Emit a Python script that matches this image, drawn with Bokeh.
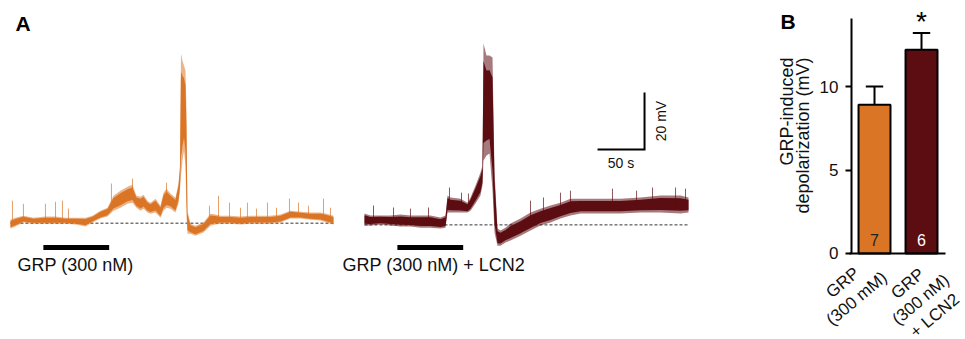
import numpy as np
from bokeh.plotting import figure
from bokeh.layouts import row
from bokeh.models import Range1d, FixedTicker
from bokeh.core.properties import value
from bokeh.embed import file_html
from bokeh.resources import INLINE

try:
    from bokeh.models import HTMLLabel as RotLabel
except ImportError:
    RotLabel = None

FONT = "Liberation Sans"
ORANGE = "#DB7526"
DARK = "#5C0D12"

# ---------------- Panel A data (time s from trace start, membrane potential mV vs baseline)
t1 = [0, 5.3, 13.8, 24.5, 37.2, 47.9, 58.5, 69.1, 79.8, 87.2, 95.7, 103.2, 109.6, 117.0,
      124.5, 129.8, 134.0, 138.3, 141.5, 145.7, 148.9, 154.3, 159.6, 162.8, 166.0, 170.2,
      175.5, 178.7, 180.3, 181.4, 183.0, 184.6, 186.2, 187.2, 188.3, 191.5, 196.8, 205.3,
      212.8, 218.1, 223.4, 234.0, 244.7, 255.3, 266.0, 276.6, 287.2, 297.9, 308.5, 319.1,
      329.8, 336.2, 343.6]
lo1 = [-1.9, -1.2, 0.2, -0.2, -0.2, -0.2, -0.2, -0.5, -1.2, 0.2, 1.6, 2.3, 4.4, 5.4,
       6.8, 7.2, 5.4, 4.4, 5.1, 3.7, 3.3, 3.7, 1.9, 4.4, 5.4, 5.1,
       3.7, 6.8, 11.4, 16.7, 21.9, 25.4, 20.2, 2.6, -3.7, -3.7, -4.4, -3.3,
       -0.9, -0.5, -0.2, -0.2, -0.5, -0.2, -0.2, -0.2, 0.2, 1.6, 1.6, 1.2,
       0.9, 0.2, -0.5]
hi1 = [1.2, 1.9, 2.6, 1.9, 2.3, 2.3, 1.9, 1.9, 1.9, 2.6, 4.4, 5.4, 9.6, 11.4,
       12.8, 13.5, 9.6, 9.3, 10.0, 7.9, 7.2, 8.6, 6.1, 10.7, 12.1, 10.4,
       8.9, 13.9, 20.2, 59.5, 57.0, 55.3, 53.5, 39.5, 4.4, -0.2, -0.9, 0.2,
       3.3, 3.0, 2.6, 2.6, 2.3, 2.6, 2.6, 2.6, 3.0, 4.4, 4.0, 3.7,
       3.7, 3.3, 2.6]
spk1_t = [2.1, 13.8, 37.2, 47.9, 55.3, 61.7, 107.4, 129.8, 166.0, 211.7, 221.3, 233.0,
          244.7, 252.1, 261.7, 273.4, 283.0, 296.8, 306.4, 317.0, 333.0, 340.4]
spk1_v = [7.9, 6.8, 6.8, 7.5, 7.9, 5.1, 13.9, 15.6, 14.2, 6.1, 9.6, 7.2,
          5.4, 7.2, 5.1, 7.2, 5.4, 8.6, 7.2, 6.1, 8.6, 5.4]

t2 = [0, 6.4, 17.0, 27.7, 38.3, 48.9, 59.6, 70.2, 80.9, 86.2, 88.3, 91.5, 102.1, 109.6,
      112.8, 118.1, 123.4, 125.5, 126.6, 129.8, 133.0, 136.2, 138.3, 141.5, 144.7, 150.0,
      155.3, 166.0, 176.6, 187.2, 197.9, 208.5, 219.1, 229.8, 251.1, 272.3, 293.6, 314.9,
      336.2, 344.7]
lo2 = [-0.2, -0.2, 0.1, -0.2, -0.6, -0.6, -1.0, -1.0, -1.3, -1.0, 4.3, 4.3, 4.3, 4.3,
       5.0, 7.5, 10.3, 13.8, 22.6, 24.3, 25.0, 12.0, -2.7, -7.3, -7.3, -6.2,
       -5.5, -3.8, -2.0, -0.2, 0.8, 2.2, 3.3, 4.0, 4.0, 4.0, 4.3, 4.3,
       4.0, 4.3]
hi2 = [4.0, 3.3, 3.3, 3.3, 3.6, 3.3, 3.3, 3.3, 2.6, 3.3, 10.3, 9.6, 9.2, 7.8,
       9.6, 13.8, 18.4, 20.8, 63.6, 59.4, 59.4, 58.7, 19.1, -1.3, -2.0, -1.0,
       0.5, 2.2, 4.3, 5.7, 6.8, 7.8, 9.2, 9.2, 9.2, 9.2, 9.6, 10.3,
       10.3, 9.6]
spk2_t = [9.6, 30.9, 48.9, 68.1, 90.4, 103.2, 110.6, 176.6, 190.4, 208.5, 219.1, 263.8,
          289.4, 306.4, 330.9, 341.5]
spk2_v = [6.8, 6.1, 5.7, 6.1, 13.1, 11.3, 11.0, 8.5, 9.6, 11.3, 12.0, 12.7,
          12.0, 13.1, 13.1, 12.7]

trace_offsets = [2.1, 378.7]     # s, where each trace starts on the common time axis
baseline_levels = [0.0, -0.6]    # mV
application = [35.0, 105.0]      # GRP application window, s from trace start
drug_labels = ["GRP (300 nM)", "GRP (300 nM) + LCN2"]
scale_t, scale_v = 50, 20        # scale bar: 50 s, 20 mV

# ---------------- Panel B data
groups = [["GRP", "(300 mM)"], ["GRP", "(300 nM)", "+ LCN2"]]
means = [8.9, 12.2]
sems = [1.1, 1.0]
n_cells = ["7", "6"]
y_ticks = [0, 5, 10]
y_title = ["GRP-induced", "depolarization (mV)"]

H = 339
# ================= Panel A figure
pa = figure(width=770, height=H, x_range=Range1d(-8.5, 810.6), y_range=Range1d(-40.8, 78.1),
            output_backend="svg", toolbar_location=None, min_border=0,
            x_axis_location=None, y_axis_location=None)
pa.grid.visible = False
pa.outline_line_color = None


def draw_trace(p, t, lo, hi, st, sv, t_off, v_off, color):
    t = np.asarray(t) + t_off
    lo = np.asarray(lo) + v_off
    hi = np.asarray(hi) + v_off
    mid = (lo + hi) / 2
    half = (hi - lo) / 2
    p.line(x=[t[0], t[-1]], y=[v_off, v_off], line_color="#333333", line_width=1,
           line_dash="3 2")
    p.varea(x=t, y1=lo, y2=hi, fill_color=color, fill_alpha=0.55)
    p.varea(x=t, y1=mid - 0.7 * half, y2=mid + 0.7 * half, fill_color=color, fill_alpha=1.0)
    st = np.asarray(st) + t_off
    sv = np.asarray(sv) + v_off
    base = np.interp(st, t, mid)
    p.segment(x0=st, y0=base, x1=st, y1=sv, line_color=color, line_width=1.0, line_alpha=0.7)


draw_trace(pa, t1, lo1, hi1, spk1_t, spk1_v, trace_offsets[0], baseline_levels[0], ORANGE)
draw_trace(pa, t2, lo2, hi2, spk2_t, spk2_v, trace_offsets[1], baseline_levels[1], DARK)

# application bars
pa.segment(x0=[application[0] + o for o in trace_offsets], y0=[-8.5, -8.5],
           x1=[application[1] + o for o in trace_offsets], y1=[-8.5, -8.5],
           line_color="black", line_width=5, line_cap="butt")
pa.text(x=[9.6, 355.3], y=[-14.5, -14.5], text=drug_labels, text_font=value(FONT),
        text_font_size="18px", text_color="#111111", text_align="left",
        text_baseline="middle")

# scale bar
sx, sy = 676.6, 25.8
pa.line(x=[sx - scale_t, sx, sx], y=[sy, sy, sy + scale_v], line_color="black",
        line_width=2, line_join="miter")
pa.text(x=[sx - scale_t / 2], y=[sy - 4.6], text=[f"{scale_t} s"], text_font=value(FONT),
        text_font_size="14px", text_align="center", text_baseline="middle", text_color="#111111")
pa.text(x=[sx + 17.0], y=[sy + scale_v / 2], text=[f"{scale_v} mV"], text_font=value(FONT),
        text_font_size="14px", text_align="center", text_baseline="middle", angle=np.pi / 2,
        text_color="#111111")

pa.text(x=[7.46], y=[70.0], text=["A"], text_font=value(FONT), text_font_size="21px",
        text_font_style="bold", text_align="left", text_baseline="middle")

# ================= Panel B figure (frame fills the canvas; axes drawn at fixed locations)
pb = figure(width=195, height=H, x_range=Range1d(-1.213, 2.936), y_range=Range1d(-5.15, 15.15),
            output_backend="svg", toolbar_location=None, min_border=0)
pb.grid.visible = False
pb.outline_line_color = None

xs = np.array([1, 2])
pb.vbar(x=xs, top=means, width=0.68, bottom=0, fill_color=[ORANGE, DARK],
        line_color="black", line_width=2)
tops = np.array(means) + np.array(sems)
pb.segment(x0=xs, y0=means, x1=xs, y1=tops, line_color="black", line_width=2)
pb.segment(x0=xs - 0.185, y0=tops, x1=xs + 0.185, y1=tops, line_color="black", line_width=2)
pb.text(x=xs, y=[0.78, 0.78], text=n_cells, text_color=["#222222", "white"],
        text_font=value(FONT), text_font_size="16px", text_align="center",
        text_baseline="middle")
pb.text(x=[2], y=[13.9], text=["*"], text_font=value(FONT), text_font_size="28px",
        text_align="center", text_baseline="middle")

yax = pb.yaxis[0]
yax.fixed_location = 0.511
yax.ticker = FixedTicker(ticks=y_ticks)
yax.bounds = (0, 14.07)
yax.axis_line_width = 2
yax.major_tick_line_width = 2
yax.major_tick_out = 6
yax.major_tick_in = 0
yax.minor_tick_line_color = None
yax.major_label_standoff = 7
yax.major_label_text_font = FONT
yax.major_label_text_font_size = "17px"
yax.major_label_text_color = "#111111"

xax = pb.xaxis[0]
xax.fixed_location = 0
xax.ticker = FixedTicker(ticks=[])
xax.bounds = (0.468, 2.511)
xax.axis_line_width = 2
xax.major_tick_line_color = None
xax.minor_tick_line_color = None

pb.text(x=[-0.862, -0.511], y=[8.5, 7.07], text=y_title, angle=np.pi / 2,
        text_font=value(FONT), text_font_size="18px", text_align="center",
        text_baseline="middle", text_color="#111111")

# two/three-line category labels under the bars, one text per line
if RotLabel is not None:
    theta = np.deg2rad(40.0)
    line_px = 21
    dx_line = line_px * np.sin(theta) / 47.0
    dy_line = -line_px * np.cos(theta) / 16.7
    centers = [(0.489, -2.28), (2.0, -2.81)]
    for lines, (cx, cy) in zip(groups, centers):
        n = len(lines)
        for i, s in enumerate(lines):
            k = i - (n - 1) / 2
            pb.add_layout(RotLabel(x=cx + k * dx_line, y=cy + k * dy_line, text=s,
                                   angle=theta, text_font=FONT, text_font_size="17px",
                                   text_align="center", text_baseline="middle",
                                   text_color="#111111"))
else:
    lx, ly, lt = [], [], []
    for lines, cx in zip(groups, [0.88, 2.04]):
        for i, s in enumerate(lines):
            lx.append(cx)
            ly.append(-1.25 - i * 1.12)
            lt.append(s)
    pb.text(x=lx, y=ly, text=lt, text_font=value(FONT), text_font_size="14px",
            text_align="center", text_baseline="middle", text_color="#111111")

pb.text(x=[-1.0], y=[13.92], text=["B"], text_font=value(FONT), text_font_size="21px",
        text_font_style="bold", text_align="left", text_baseline="middle")

layout = row(pa, pb)
open("out.html", "w").write(file_html(layout, INLINE))
